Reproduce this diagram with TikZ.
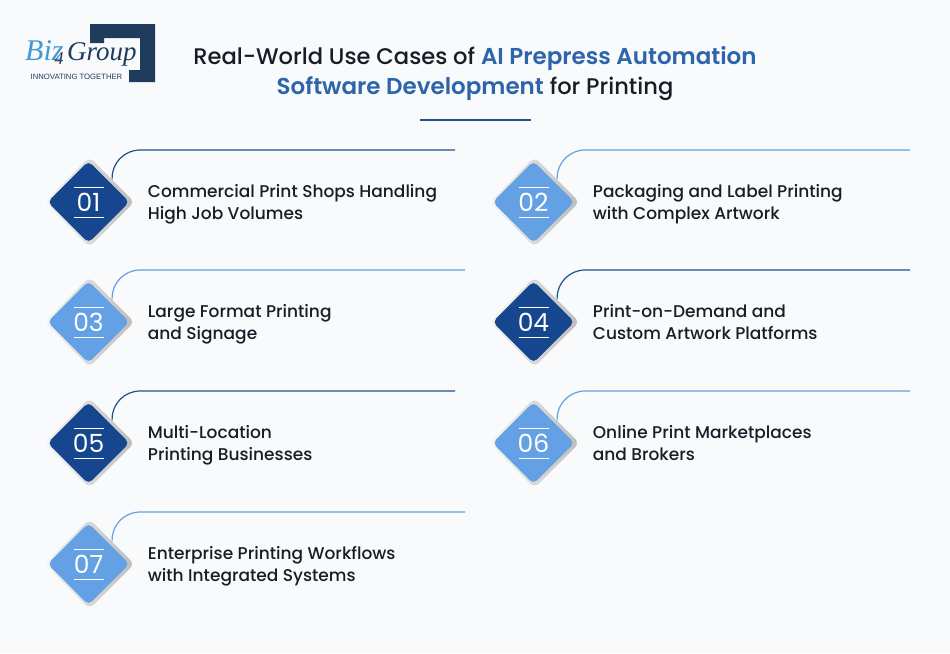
\documentclass[tikz,border=0pt]{standalone}
\usepackage{fontspec}
\setmainfont{Poppins}
\newfontfamily\medfont{Poppins Medium}
\newfontfamily\semifont{Poppins SemiBold}
\newfontfamily\logofont{Liberation Serif}
\newfontfamily\tagfont{Liberation Sans}
\usetikzlibrary{shapes.geometric, positioning, calc}
\definecolor{mypage}{RGB}{248, 250, 252}
\definecolor{mydark}{RGB}{22, 70, 142}
\definecolor{mylight}{RGB}{100, 160, 228}
\definecolor{mytitle}{RGB}{45, 100, 170}
\definecolor{myink}{RGB}{24, 28, 38}
\definecolor{mynavy}{RGB}{32, 60, 92}
\definecolor{myline}{RGB}{30, 80, 140}
\definecolor{mylogo}{RGB}{70, 150, 212}
\newcommand{\bluepart}[1]{{\semifont\fontsize{23pt}{30pt}\selectfont\color{mytitle}#1}}

\begin{document}
\begin{tikzpicture}[x=1pt, y=-1pt,
    shadebox/.style={diamond, inner sep=0pt, minimum size=90pt, rounded corners=6pt, left color=white!92!gray, right color=gray!52},
    badge/.style={diamond, inner sep=0pt, minimum size=82pt, rounded corners=5pt, text=white, font=\fontsize{25pt}{25pt}\selectfont},
    darkbadge/.style={badge, fill=mydark},
    lightbadge/.style={badge, fill=mylight},
    item/.style={align=left, anchor=west, inner sep=0pt, yshift=-2pt, text=myink, font=\medfont\fontsize{17pt}{22pt}\selectfont, execute at begin node=\vphantom{Ag}, execute at end node=\vphantom{Ag}},
    darklink/.style={draw=myline, line width=1.2pt, rounded corners=28pt},
    lightlink/.style={draw=mylight, line width=1.2pt, rounded corners=28pt},
    rule/.style={draw=white, line width=0.8pt}
]
\useasboundingbox[fill=mypage] (0,0) rectangle (950,653);

% Logo
\fill[mynavy] (90,24) -- (155,24) -- (155,82) -- (129,82) -- (129,70) -- (140,70) -- (140,38) -- (104,38) -- (104,43) -- (90,43) -- cycle;
\node[anchor=base west, inner sep=0pt, text=mylogo, font=\logofont\itshape\fontsize{30pt}{30pt}\selectfont] (biz) at (25,60) {Biz};
\node[anchor=base west, inner sep=0pt, text=mynavy, font=\logofont\itshape\fontsize{27pt}{27pt}\selectfont] (group) at (67,60) {Group};
\node[anchor=base, inner sep=0pt, text=mynavy, font=\logofont\itshape\fontsize{18pt}{18pt}\selectfont] (four) at (59,64) {4};
\node[anchor=base, inner sep=0pt, text=mynavy, font=\tagfont\fontsize{7.7pt}{7.7pt}\selectfont] (tag) at (76.5,79) {INNOVATING TOGETHER};

% Title
\node[align=center, text=myink, font=\medfont\fontsize{22.6pt}{30pt}\selectfont] (title) at (475,74)
    {Real-World Use Cases of \bluepart{AI Prepress Automation}\\
     \bluepart{Software Development} for Printing};
\coordinate (ruleleft) at (420,120);
\coordinate (ruleright) at (531,120);
\draw[myline, line width=1.2pt] (ruleleft) -- (ruleright);

% Left column
\node[shadebox] (shade1) at (89.5,202) {};
\node[darkbadge] (b1) at (88.5,202) {01};
\node[item, right=18pt of b1] (t1) {Commercial Print Shops Handling\\High Job Volumes};
\coordinate (e1) at (455,150);
\draw[darklink] (shade1.north east) |- (e1);
\draw[rule] ($(b1)+(-15,-15)$) -- ($(b1)+(15,-15)$);
\draw[rule] ($(b1)+(-15,15)$) -- ($(b1)+(15,15)$);

\node[shadebox] (shade3) at (89.5,322) {};
\node[lightbadge] (b3) at (88.5,322) {03};
\node[item, right=18pt of b3] (t3) {Large Format Printing\\and Signage};
\coordinate (e3) at (465,270);
\draw[lightlink] (shade3.north east) |- (e3);
\draw[rule] ($(b3)+(-15,-15)$) -- ($(b3)+(15,-15)$);
\draw[rule] ($(b3)+(-15,15)$) -- ($(b3)+(15,15)$);

\node[shadebox] (shade5) at (89.5,443) {};
\node[darkbadge] (b5) at (88.5,443) {05};
\node[item, right=18pt of b5] (t5) {Multi-Location\\Printing Businesses};
\coordinate (e5) at (455,391);
\draw[darklink] (shade5.north east) |- (e5);
\draw[rule] ($(b5)+(-15,-15)$) -- ($(b5)+(15,-15)$);
\draw[rule] ($(b5)+(-15,15)$) -- ($(b5)+(15,15)$);

\node[shadebox] (shade7) at (89.5,564) {};
\node[lightbadge] (b7) at (88.5,564) {07};
\node[item, right=18pt of b7] (t7) {Enterprise Printing Workflows\\with Integrated Systems};
\coordinate (e7) at (465,512);
\draw[lightlink] (shade7.north east) |- (e7);
\draw[rule] ($(b7)+(-15,-15)$) -- ($(b7)+(15,-15)$);
\draw[rule] ($(b7)+(-15,15)$) -- ($(b7)+(15,15)$);

% Right column
\node[shadebox] (shade2) at (534.5,202) {};
\node[lightbadge] (b2) at (533.5,202) {02};
\node[item, right=18pt of b2] (t2) {Packaging and Label Printing\\with Complex Artwork};
\coordinate (e2) at (910,150);
\draw[lightlink] (shade2.north east) |- (e2);
\draw[rule] ($(b2)+(-15,-15)$) -- ($(b2)+(15,-15)$);
\draw[rule] ($(b2)+(-15,15)$) -- ($(b2)+(15,15)$);

\node[shadebox] (shade4) at (534.5,322) {};
\node[darkbadge] (b4) at (533.5,322) {04};
\node[item, right=18pt of b4] (t4) {Print-on-Demand and\\Custom Artwork Platforms};
\coordinate (e4) at (910,270);
\draw[darklink] (shade4.north east) |- (e4);
\draw[rule] ($(b4)+(-15,-15)$) -- ($(b4)+(15,-15)$);
\draw[rule] ($(b4)+(-15,15)$) -- ($(b4)+(15,15)$);

\node[shadebox] (shade6) at (534.5,443) {};
\node[lightbadge] (b6) at (533.5,443) {06};
\node[item, right=18pt of b6] (t6) {Online Print Marketplaces\\and Brokers};
\coordinate (e6) at (910,391);
\draw[lightlink] (shade6.north east) |- (e6);
\draw[rule] ($(b6)+(-15,-15)$) -- ($(b6)+(15,-15)$);
\draw[rule] ($(b6)+(-15,15)$) -- ($(b6)+(15,15)$);

\end{tikzpicture}
\end{document}
